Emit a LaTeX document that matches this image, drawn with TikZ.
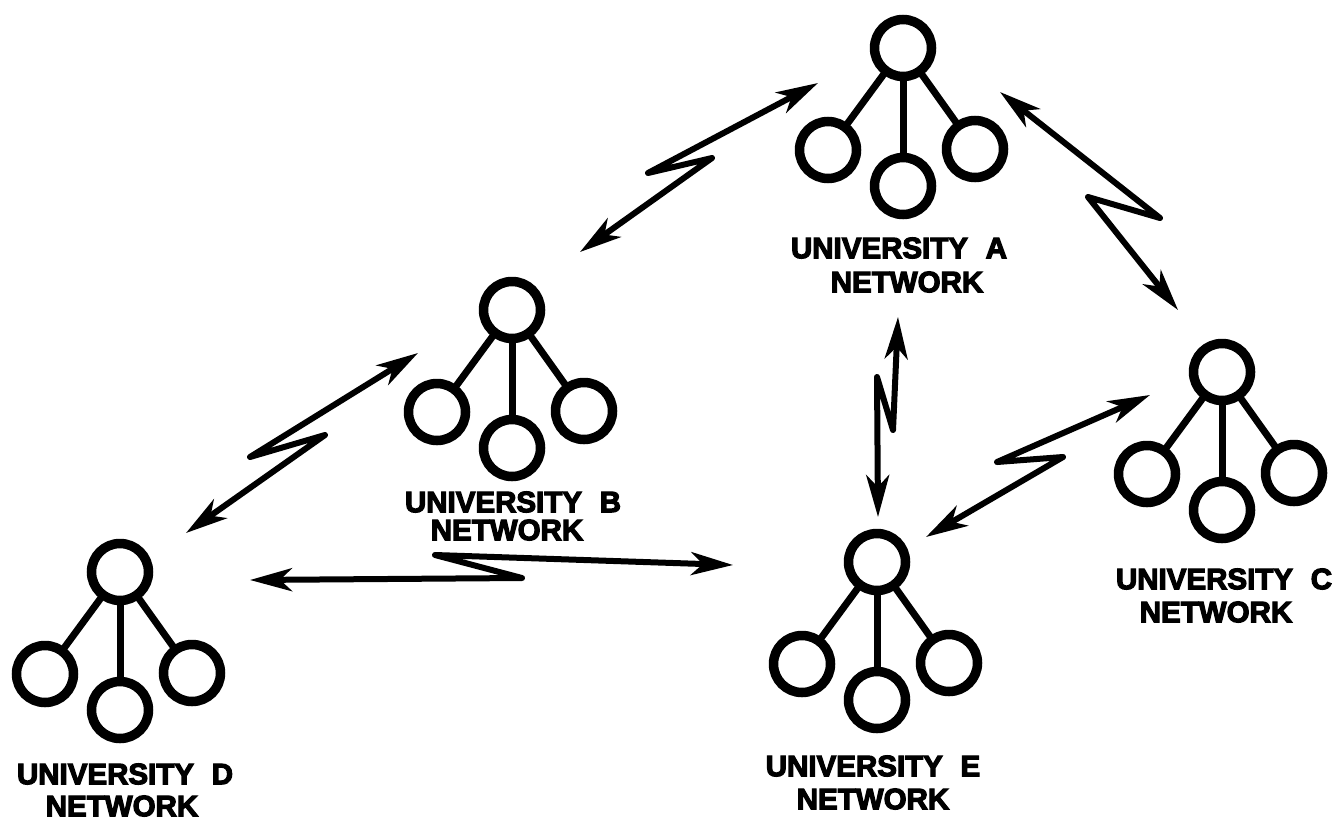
\documentclass[tikz,border=0pt]{standalone}
\usepackage{fontspec}
\newfontfamily\labfont[FakeBold=4]{Liberation Sans Bold}
\usetikzlibrary{arrows.meta}
\newcommand{\unet}[3]{%
  \node[circ] (#1t) at (#2,#3) {};
  \node[circ] (#1l) at ([shift={(-75,102)}]#1t) {};
  \node[circ] (#1m) at ([shift={(0,138)}]#1t) {};
  \node[circ] (#1r) at ([shift={(72,101)}]#1t) {};
  \draw[twig] (#1t) -- (#1l);
  \draw[twig] (#1t) -- (#1m);
  \draw[twig] (#1t) -- (#1r);
}
\begin{document}
\begin{tikzpicture}[x=1pt,y=-1pt,
  circ/.style={circle,draw,line width=9.5pt,minimum size=57pt,inner sep=0pt},
  twig/.style={line width=7pt,shorten <=-2pt,shorten >=-2pt},
  link/.style={line width=6pt,line join=round,line cap=round,
    {Stealth[length=42pt,width=23pt,inset=12pt]}-{Stealth[length=42pt,width=23pt,inset=12pt]}},
  lab/.style={font=\labfont\fontsize{29.5}{33}\selectfont,inner sep=0pt}]
\useasboundingbox (0,0) rectangle (1332,828);

\unet{A}{903}{48}
\unet{B}{512}{310}
\unet{C}{1222}{372}
\unet{D}{120}{572}
\unet{E}{877}{562}

\node[lab] (Al1) at (899,248) {UNIVERSITY\hspace{0.6em}A};
\node[lab] (Al2) at (907,282) {NETWORK};
\node[lab] (Bl1) at (513,502) {UNIVERSITY\hspace{0.6em}B};
\node[lab] (Bl2) at (507,530) {NETWORK};
\node[lab] (Cl1) at (1224,579) {UNIVERSITY\hspace{0.6em}C};
\node[lab] (Cl2) at (1216,612) {NETWORK};
\node[lab] (Dl1) at (125,774) {UNIVERSITY\hspace{0.6em}D};
\node[lab] (Dl2) at (122,806) {NETWORK};
\node[lab] (El1) at (873,766) {UNIVERSITY\hspace{0.6em}E};
\node[lab] (El2) at (873,799) {NETWORK};

% lightning links
\coordinate (ab1) at (818,83);  \coordinate (ab2) at (648,173);
\coordinate (ab3) at (712,158); \coordinate (ab4) at (580,252);
\draw[link] (ab1) -- (ab2) -- (ab3) -- (ab4);

\coordinate (ac1) at (1000,92);  \coordinate (ac2) at (1160,218);
\coordinate (ac3) at (1088,197); \coordinate (ac4) at (1178,310);
\draw[link] (ac1) -- (ac2) -- (ac3) -- (ac4);

\coordinate (ae1) at (898,317); \coordinate (ae2) at (893,430);
\coordinate (ae3) at (877,377); \coordinate (ae4) at (878,517);
\draw[link] (ae1) -- (ae2) -- (ae3) -- (ae4);

\coordinate (bd1) at (418,353); \coordinate (bd2) at (250,457);
\coordinate (bd3) at (325,435); \coordinate (bd4) at (186,533);
\draw[link] (bd1) -- (bd2) -- (bd3) -- (bd4);

\coordinate (ce1) at (1150,395); \coordinate (ce2) at (997,462);
\coordinate (ce3) at (1063,457); \coordinate (ce4) at (926,537);
\draw[link] (ce1) -- (ce2) -- (ce3) -- (ce4);

\coordinate (de1) at (250,580); \coordinate (de2) at (522,578);
\coordinate (de3) at (435,555); \coordinate (de4) at (733,565);
\draw[link] (de1) -- (de2) -- (de3) -- (de4);
\end{tikzpicture}
\end{document}
